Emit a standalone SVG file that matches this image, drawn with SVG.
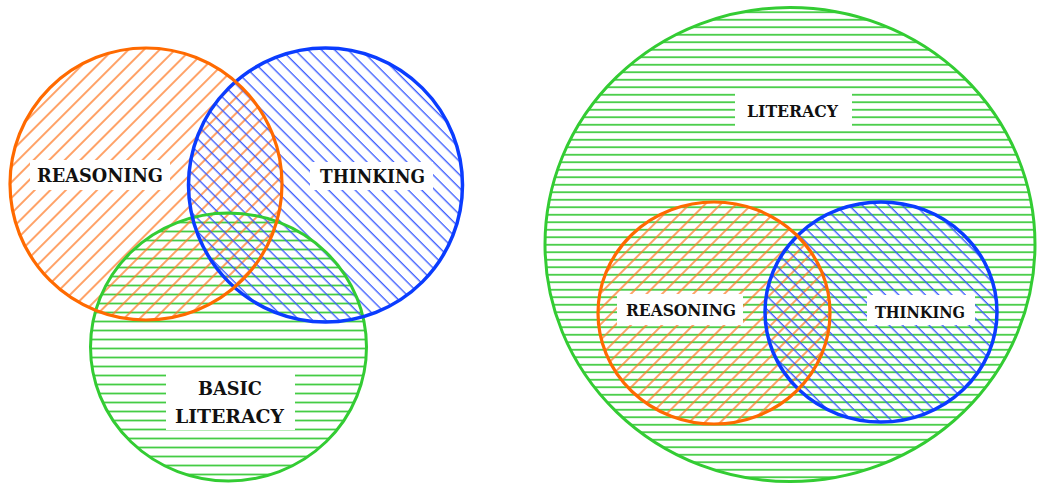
<svg xmlns="http://www.w3.org/2000/svg" width="1041" height="483" viewBox="0 0 1041 483">
<style>
.lbl{font-family:"DejaVu Serif","Liberation Serif",serif;font-weight:bold;fill:#111;text-anchor:middle}
.box{fill:#fff}
.o{fill:none;stroke:#ff6a00;stroke-width:3.2}
.b{fill:none;stroke:#0a3cff;stroke-width:3.5}
.g{fill:none;stroke:#33cc33;stroke-width:3}
</style>
<defs>
<pattern id="po" patternUnits="userSpaceOnUse" width="11" height="11" patternTransform="rotate(45)">
<line x1="5" y1="-1" x2="5" y2="12" stroke="#ff7a26" stroke-width="1.4"/>
</pattern>
<pattern id="pb" patternUnits="userSpaceOnUse" width="9.4" height="9.4" patternTransform="rotate(-45)">
<line x1="4" y1="-1" x2="4" y2="11" stroke="#3355ff" stroke-width="1.3"/>
</pattern>
<pattern id="pg1" patternUnits="userSpaceOnUse" width="20" height="9" patternTransform="translate(0,2)">
<line x1="-1" y1="4.5" x2="21" y2="4.5" stroke="#44cc44" stroke-width="1.8"/>
</pattern>
<pattern id="pg2" patternUnits="userSpaceOnUse" width="20" height="7.5" patternTransform="translate(0,1)">
<line x1="-1" y1="3.75" x2="21" y2="3.75" stroke="#44cc44" stroke-width="1.8"/>
</pattern>
</defs>
<rect width="1041" height="483" fill="#fff"/>

<g id="left-basic-literacy">
<ellipse cx="228.5" cy="347" rx="138" ry="134" fill="url(#pg1)"/>
</g>
<g id="left-reasoning">
<circle cx="146" cy="184" r="136" fill="url(#po)"/>
</g>
<g id="left-thinking">
<circle cx="325.5" cy="185" r="137" fill="url(#pb)"/>
</g>
<g id="left-outlines">
<ellipse class="g" cx="228.5" cy="347" rx="138" ry="134"/>
<circle class="b" cx="325.5" cy="185" r="137"/>
<circle class="o" cx="146" cy="184" r="136"/>
</g>
<g id="left-labels">
<rect class="box" x="30" y="160" width="140" height="30"/>
<text class="lbl" x="100" y="182" font-size="18" textLength="126" lengthAdjust="spacingAndGlyphs">REASONING</text>
<rect class="box" x="310" y="162" width="123" height="28"/>
<text class="lbl" x="372.5" y="183" font-size="18" textLength="105" lengthAdjust="spacingAndGlyphs">THINKING</text>
<rect class="box" x="166" y="370" width="129" height="60"/>
<text class="lbl" x="230" y="395" font-size="18" textLength="64" lengthAdjust="spacingAndGlyphs">BASIC</text>
<text class="lbl" x="229.5" y="423" font-size="18" textLength="109" lengthAdjust="spacingAndGlyphs">LITERACY</text>
</g>

<g id="right-literacy">
<ellipse cx="790" cy="244.5" rx="245" ry="237" fill="url(#pg2)"/>
<ellipse class="g" cx="790" cy="244.5" rx="245" ry="237"/>
</g>
<g id="right-reasoning">
<ellipse cx="714" cy="313" rx="116" ry="111" fill="url(#po)"/>
</g>
<g id="right-thinking">
<ellipse cx="881" cy="312" rx="116" ry="110" fill="url(#pb)"/>
</g>
<g id="right-outlines">
<ellipse class="b" cx="881" cy="312" rx="116" ry="110"/>
<ellipse class="o" cx="714" cy="313" rx="116" ry="111"/>
</g>
<g id="right-labels">
<rect class="box" x="735" y="93" width="117" height="37"/>
<text class="lbl" x="792.5" y="117" font-size="16" textLength="91" lengthAdjust="spacingAndGlyphs">LITERACY</text>
<rect class="box" x="617" y="294" width="126" height="31"/>
<text class="lbl" x="681" y="316" font-size="16" textLength="110" lengthAdjust="spacingAndGlyphs">REASONING</text>
<rect class="box" x="867" y="295" width="108" height="30"/>
<text class="lbl" x="920" y="318" font-size="16" textLength="90" lengthAdjust="spacingAndGlyphs">THINKING</text>
</g>
</svg>
